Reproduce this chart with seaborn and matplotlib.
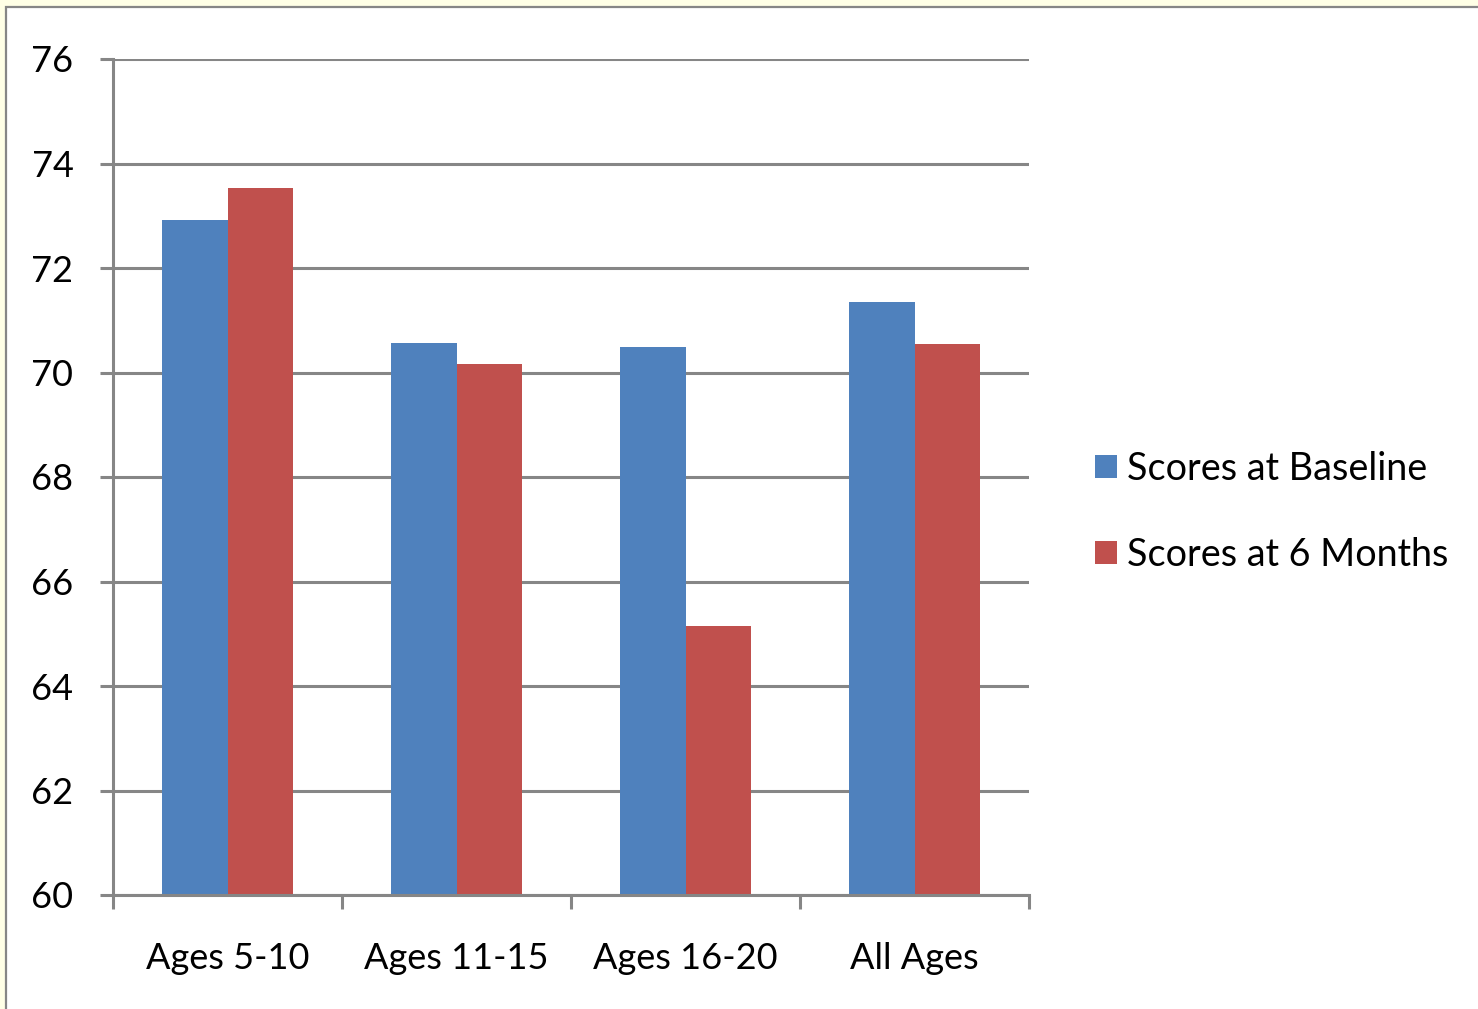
import matplotlib
matplotlib.use("Agg")
import matplotlib.pyplot as plt
import seaborn as sns
import pandas as pd
from matplotlib.patches import Rectangle

categories = ["Ages 5-10", "Ages 11-15", "Ages 16-20", "All Ages"]
series_names = ["Scores at Baseline", "Scores at 6 Months"]
baseline = [72.92, 70.57, 70.49, 71.35]
six_months = [73.53, 70.16, 65.15, 70.55]
y_ticks = [60, 62, 64, 66, 68, 70, 72, 74, 76]

colors = ["#4F81BD", "#C0504D"]
grid_c = "#868686"

rows = []
for c, v in zip(categories, baseline):
    rows.append({"Age": c, "Score": v, "Series": series_names[0]})
for c, v in zip(categories, six_months):
    rows.append({"Age": c, "Score": v, "Series": series_names[1]})
df = pd.DataFrame(rows)

sns.set_theme(style="white")
plt.rcParams["font.family"] = ["Lato", "DejaVu Sans"]
plt.rcParams["text.color"] = "black"
plt.rcParams["xtick.color"] = "black"
plt.rcParams["ytick.color"] = "black"

W, H = 1478, 1009
fig = plt.figure(figsize=(W / 100, H / 100), dpi=100)
fig.patch.set_facecolor("#FFFFE6")
fig.patches.append(Rectangle((6 / W, -0.1), 1.2, 1 - 7 / H + 0.1, transform=fig.transFigure,
                             facecolor="white", edgecolor=grid_c, linewidth=1.6, zorder=-10))

ax = fig.add_axes([113 / W, 1 - 895 / H, (1029 - 113) / W, (895 - 59) / H])
ax.set_zorder(5)
ax.set_facecolor("none")

sns.barplot(data=df, x="Age", y="Score", hue="Series", palette=colors, width=0.572,
            saturation=1, linewidth=0, ax=ax, legend=True)

ax.set_ylim(60, 76)
ax.set_xlim(-0.5, 3.5)
ax.set_yticks(y_ticks)
ax.set_yticklabels([str(t) for t in y_ticks])
ax.set_xlabel("")
ax.set_ylabel("")

ax.yaxis.grid(True, color=grid_c, linewidth=2.2)
ax.set_axisbelow(True)
for s in ["top", "right"]:
    ax.spines[s].set_visible(False)
for s in ["left", "bottom"]:
    ax.spines[s].set_color(grid_c)
    ax.spines[s].set_linewidth(2.2)

ax.tick_params(axis="y", which="major", length=9.5, width=2.2, color=grid_c, pad=19,
               labelsize=26, labelcolor="black", left=True)
ax.set_xticks([-0.5, 0.5, 1.5, 2.5, 3.5], minor=True)
ax.tick_params(axis="x", which="minor", length=10, width=2.2, color=grid_c, bottom=True)
ax.tick_params(axis="x", which="major", length=0, pad=34, labelsize=26, labelcolor="black")

handles, labels = ax.get_legend_handles_labels()
leg = ax.legend(handles, labels, loc="center left", bbox_to_anchor=(1095 / W, 1 - 512 / H),
                bbox_transform=fig.transFigure, frameon=False, fontsize=27.2,
                handlelength=0.57, handleheight=0.57, handletextpad=0.27, labelspacing=1.33,
                borderpad=0, borderaxespad=0)
for t in leg.get_texts():
    t.set_color("black")

fig.savefig("out.png", dpi=100, facecolor=fig.get_facecolor())
